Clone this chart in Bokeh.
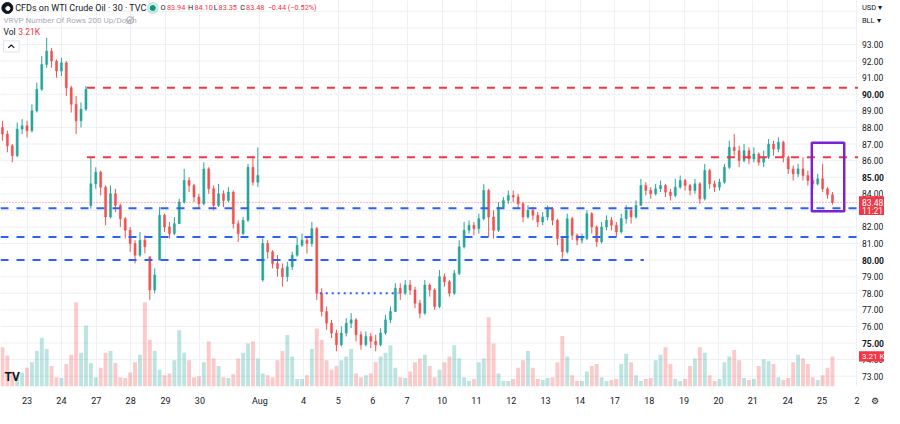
from bokeh.plotting import figure
from bokeh.models import Range1d, FixedTicker, ColumnDataSource
from bokeh.embed import file_html
from bokeh.resources import INLINE
from bokeh.core.properties import value

# ---------------- data ----------------
first_open = 88.0
closes = [
    87.6, 86.9, 86.3, 87.9, 88.1, 87.8, 89.0, 90.3, 91.8, 92.6,
    92.0, 91.4, 91.9, 90.4, 89.4, 88.4, 89.1, 90.3, 84.6, 85.3,
    84.4, 82.6, 84.0, 83.3, 82.5, 81.8, 81.0, 80.3, 81.2, 80.8,
    78.2, 79.1, 82.7, 82.0, 81.6, 82.2, 83.5, 84.8, 84.5, 83.8,
    83.4, 85.5, 84.3, 83.3, 84.0, 83.6, 84.1, 82.2, 81.6, 82.4,
    85.6, 84.7, 85.1, 81.0, 80.5, 79.8, 79.5, 79.0, 79.6, 80.3,
    80.9, 81.2, 81.0, 81.9, 78.0, 76.9, 76.2, 75.6, 74.9, 75.6,
    76.2, 76.4, 75.5, 74.9, 75.4, 75.1, 74.9, 75.6, 76.4, 76.9,
    78.3, 78.0, 78.5, 78.2, 77.4, 76.8, 78.5, 78.2, 77.2, 79.0,
    78.7, 78.0, 79.2, 80.8, 81.8, 82.1, 81.9, 82.5, 84.2, 82.6,
    81.8, 83.2, 83.6, 83.9, 83.8, 83.4, 82.6, 83.0, 82.7, 82.3,
    82.6, 83.1, 82.4, 81.3, 80.5, 82.5, 81.5, 81.2, 81.3, 82.8,
    82.0, 81.1, 82.0, 82.4, 82.1, 81.7, 82.5, 83.0, 82.6, 83.3,
    84.5, 84.2, 84.0, 84.3, 84.5, 84.1, 83.9, 84.4, 84.8, 84.5,
    84.2, 84.6, 83.7, 85.4, 84.6, 84.4, 84.7, 85.6, 86.8, 86.6,
    86.0, 86.6, 86.1, 86.4, 85.9, 86.2, 87.0, 86.7, 87.1, 86.2,
    85.5, 85.2, 85.5, 85.1, 84.8, 84.6, 84.9, 84.3, 83.94, 83.48,
]
highs = [
    88.4, 87.8, 87.0, 88.3, 88.5, 88.4, 89.4, 90.7, 92.3, 93.4,
    92.8, 92.1, 92.2, 92.0, 90.5, 89.9, 89.5, 90.5, 86.2, 85.6,
    85.4, 84.5, 84.5, 84.3, 83.4, 82.6, 82.0, 81.2, 81.7, 81.5,
    80.2, 79.5, 83.2, 82.8, 82.3, 82.6, 83.7, 85.5, 85.0, 84.6,
    84.0, 85.9, 85.6, 84.5, 84.6, 84.2, 84.4, 84.2, 82.4, 82.6,
    85.8, 86.3, 86.8, 81.3, 81.2, 80.6, 80.3, 79.8, 79.9, 80.5,
    81.4, 81.6, 81.4, 82.3, 82.0, 78.3, 77.2, 76.4, 75.8, 76.0,
    76.5, 76.8, 76.5, 75.7, 75.7, 75.6, 75.5, 75.9, 76.7, 77.2,
    78.6, 78.6, 78.8, 78.8, 78.4, 77.6, 78.8, 78.6, 78.3, 79.4,
    79.2, 78.8, 79.4, 81.2, 82.3, 82.4, 82.3, 82.8, 84.6, 84.3,
    83.0, 83.5, 83.8, 84.2, 84.2, 84.0, 83.5, 83.3, 83.2, 82.9,
    82.9, 83.3, 83.2, 82.5, 81.4, 82.8, 82.6, 81.6, 81.6, 83.0,
    82.9, 82.1, 82.3, 82.7, 82.6, 82.3, 82.8, 83.3, 83.1, 83.6,
    84.9, 84.7, 84.4, 84.6, 84.8, 84.6, 84.3, 84.9, 85.1, 84.9,
    84.6, 84.9, 84.7, 85.8, 85.5, 84.8, 84.9, 85.8, 87.2, 87.6,
    86.9, 87.0, 86.8, 86.8, 86.5, 86.6, 87.3, 87.2, 87.4, 87.2,
    86.3, 85.7, 85.8, 86.2, 85.4, 85.0, 85.2, 85.8, 84.4, 84.10,
]
lows = [
    87.2, 86.5, 85.9, 86.2, 87.6, 87.4, 87.7, 88.9, 90.2, 91.6,
    91.6, 91.0, 91.1, 89.9, 88.9, 87.6, 88.0, 89.0, 83.1, 84.3,
    83.9, 82.1, 82.5, 82.9, 82.0, 81.3, 80.5, 79.8, 80.2, 80.4,
    77.6, 78.0, 80.0, 81.7, 81.3, 81.5, 82.2, 83.4, 84.1, 83.5,
    83.1, 83.3, 84.0, 83.0, 83.2, 83.2, 83.5, 81.9, 81.1, 81.5,
    82.3, 84.5, 84.4, 78.7, 80.1, 79.5, 79.0, 78.4, 78.7, 79.4,
    80.2, 80.8, 80.4, 80.8, 77.6, 76.6, 75.8, 75.3, 74.5, 74.8,
    75.4, 75.9, 75.1, 74.6, 74.8, 74.7, 74.5, 74.8, 75.5, 76.2,
    76.9, 77.6, 77.9, 77.9, 77.1, 76.5, 76.7, 77.8, 77.0, 77.1,
    78.4, 77.8, 77.9, 79.1, 80.7, 81.6, 81.5, 81.6, 82.4, 81.4,
    81.3, 81.7, 83.1, 83.4, 83.5, 83.1, 82.3, 82.5, 82.4, 82.0,
    82.1, 82.4, 82.1, 80.9, 80.1, 80.4, 81.2, 80.9, 81.0, 81.2,
    81.6, 80.8, 81.0, 81.8, 81.8, 81.4, 81.6, 82.2, 82.2, 82.5,
    83.3, 83.9, 83.7, 83.9, 84.1, 83.8, 83.6, 83.8, 84.3, 84.2,
    83.9, 84.0, 83.4, 83.6, 84.3, 84.1, 84.2, 84.6, 85.5, 86.3,
    85.6, 85.9, 85.8, 85.9, 85.7, 85.6, 86.1, 86.3, 86.5, 85.9,
    85.2, 84.8, 85.0, 84.8, 84.5, 84.3, 84.5, 84.1, 83.7, 83.35,
]
gap_opens = {18: 83.3, 30: 80.2, 32: 80.0, 53: 78.8}
volumes_k = [
    4.2, 3.3, 1.6, 1.2, 1.5, 2.0, 2.6, 3.8, 5.2, 4.0,
    2.2, 1.0, 0.9, 2.4, 3.4, 9.0, 3.6, 6.5, 2.5, 1.0,
    2.0, 3.6, 3.8, 2.5, 1.0, 0.9, 1.5, 2.6, 3.4, 9.0,
    5.0, 3.8, 1.8, 1.2, 1.4, 2.8, 6.0, 3.6, 2.8, 1.0,
    1.1, 2.6, 4.8, 3.0, 2.2, 1.0, 0.9, 1.3, 3.0, 3.6,
    4.6, 4.8, 3.0, 1.4, 1.2, 1.0, 2.8, 3.8, 5.5, 3.2,
    0.8, 0.8, 1.2, 4.0, 6.2, 5.0, 2.8, 1.8, 2.2, 2.8,
    3.2, 4.0, 1.4, 1.0, 1.2, 1.4, 2.6, 3.2, 3.6, 4.4,
    2.0, 1.0, 0.9, 1.6, 2.6, 3.0, 3.4, 2.2, 1.0, 1.8,
    2.6, 3.2, 4.4, 3.0, 1.0, 0.6, 0.8, 2.6, 3.0, 7.4,
    4.6, 1.4, 0.6, 0.6, 0.8, 2.0, 2.8, 3.8, 2.0, 0.8,
    0.7, 0.9, 1.0, 2.6, 5.4, 3.2, 1.2, 0.6, 0.6, 1.6,
    2.2, 2.4, 1.0, 0.6, 0.7, 0.8, 2.4, 3.5, 2.6, 1.2,
    0.6, 0.8, 0.9, 2.8, 3.4, 4.2, 2.4, 0.8, 0.6, 0.8,
    2.2, 3.0, 4.2, 3.6, 1.2, 0.6, 0.8, 2.6, 3.2, 3.9,
    2.8, 0.9, 0.7, 0.8, 2.2, 2.9, 2.7, 2.4, 1.0, 0.7,
    0.9, 2.6, 3.4, 3.0, 2.4, 1.0, 0.7, 1.2, 2.0, 3.21,
]

# x axis: trading-day ticks (day index) and their labels
day_ticks = [0, 1, 2, 3, 4, 5, 6.73, 8, 9, 10, 11, 12, 13, 14, 15, 16, 17, 18, 19, 20, 21, 22, 23, 24]
day_labels = ["23", "24", "27", "28", "29", "30", "Aug", "4", "5", "6", "7", "10", "11", "12",
              "13", "14", "17", "18", "19", "20", "21", "24", "25", "2"]
first_day_bar = 5.0
bars_per_day = 7.04

price_ticks = list(range(73, 94))
bold_price_ticks = [75, 80, 85, 90]
grid_prices = list(range(73, 96))

# drawn levels
level_prices = [90.40, 86.20, 83.12, 81.40, 80.00]
level_colors = ["#f23645", "#f23645", "#2962ff", "#2962ff", "#2962ff"]
level_start_bar = [17.2, 17.2, -0.4, -0.4, -0.4]
level_end_bar = [174.2, 174.2, 174.2, 174.2, 130.6]
dotted_level = [78.0]
dotted_start_bar = [64.6]
dotted_end_bar = [80.6]
box_bars = [164.8, 171.4]
box_prices = [82.94, 87.07]

last_price = 83.48
last_vol_k = 3.21
countdown = "11:21"
ohlc_keys = ["O", "H", "L", "C"]
ohlc_vals = ["83.94", "84.10", "83.35", "83.48"]
change = "\u22120.44 (\u22120.52%)"

UP = "#26a69a"
DOWN = "#ef5350"
TXT = "#131722"
RED = "#f23645"
FONT = "Roboto"

# ---------------- build ----------------
n = len(closes)
opens = [first_open] + closes[:-1]
for k, v in gap_opens.items():
    opens[k] = v
xs = list(range(n))
colors = [UP if c >= o else DOWN for o, c in zip(opens, closes)]
src = ColumnDataSource(dict(
    x=xs, o=opens, c=closes,
    h=[max(h, o, c) for h, o, c in zip(highs, opens, closes)],
    l=[min(l, o, c) for l, o, c in zip(lows, opens, closes)],
    top=[max(o, c) for o, c in zip(opens, closes)],
    bot=[min(o, c) for o, c in zip(opens, closes)],
    color=colors, vol=volumes_k,
))


def X(px):  # reference pixel column -> bar coordinate
    return (px - 2) / 5.0


def Y(py):  # reference pixel row -> price coordinate
    return 93 - (py - 47) / 17.7


XMIN, XMAX = X(0), X(900)
YMIN, YMAX = Y(412), Y(0)
PLOT_RIGHT = X(873)

p = figure(width=884, height=408, x_range=Range1d(XMIN, XMAX), y_range=Range1d(YMIN, YMAX),
           output_backend="svg", toolbar_location=None, y_axis_location=None,
           min_border_left=0, min_border_top=0, min_border_right=0, min_border_bottom=16)
p.extra_y_ranges = {"vol": Range1d(0, 41.2)}
p.outline_line_color = None
p.background_fill_color = "white"
p.border_fill_color = "white"

tick_bars = [round(first_day_bar + d * bars_per_day, 1) for d in day_ticks]
gear_bar = round(X(890), 1)

# grid
p.xgrid.ticker = FixedTicker(ticks=tick_bars)
p.xgrid.grid_line_color = "#eef0f4"
p.ygrid.grid_line_color = None
p.segment(x0=[XMIN] * len(grid_prices), x1=[PLOT_RIGHT] * len(grid_prices), y0=grid_prices, y1=grid_prices,
          line_color="#eef0f4", line_width=1)

# x axis
p.xaxis.ticker = FixedTicker(ticks=tick_bars + [gear_bar])
ov = {t: lab for t, lab in zip(tick_bars, day_labels)}
ov[gear_bar] = "\u2699"
p.xaxis.major_label_overrides = ov
ax = p.xaxis[0]
ax.axis_line_color = None
ax.major_tick_line_color = None
ax.minor_tick_line_color = None
ax.major_label_text_font = FONT
ax.major_label_text_font_size = "9px"
ax.major_label_text_color = TXT
ax.major_label_standoff = 3

# volume
p.vbar(x="x", width=0.8, top="vol", bottom=0, source=src, y_range_name="vol",
       fill_color="color", fill_alpha=0.3, line_color=None)

# candles
p.segment(x0="x", y0="l", x1="x", y1="h", source=src, line_color="color", line_width=1)
p.vbar(x="x", width=0.42, top="top", bottom="bot", source=src, fill_color="color", line_color="color",
       line_width=0.5)

# current price line
p.segment(x0=[XMIN], x1=[PLOT_RIGHT], y0=[last_price], y1=[last_price], line_color=RED,
          line_dash="1 2", line_width=1, line_alpha=0.7)

# levels
p.segment(x0=level_start_bar, x1=level_end_bar, y0=level_prices, y1=level_prices,
          line_color=level_colors, line_width=2, line_dash="8 8")
p.segment(x0=dotted_start_bar, x1=dotted_end_bar, y0=dotted_level, y1=dotted_level,
          line_color="#2962ff", line_width=2, line_dash="2 4")
p.quad(left=[box_bars[0]], right=[box_bars[1]], bottom=[box_prices[0]], top=[box_prices[1]],
       fill_color=None, line_color="#7a22d4", line_width=2.5)


def txt(x, y, s, color=TXT, size="9px", style="normal", align="left", y_range_name="default"):
    p.text(x=[x], y=[y], text=[s], text_color=color, text_font=value(FONT), text_font_size=size,
           text_font_style=style, text_baseline="middle", text_align=align, y_range_name=y_range_name)


# ---- header ----
p.scatter(x=[X(7)], y=[Y(8)], size=11, color=TXT)
p.scatter(x=[X(7.5)], y=[Y(8.5)], size=4, color="white")
txt(X(15), Y(8), "CFDs on WTI Crude Oil \u00b7 30 \u00b7 TVC", size="9px")
p.scatter(x=[X(155)], y=[Y(8)], size=11, color="#089981", alpha=0.18)
p.scatter(x=[X(155)], y=[Y(8)], size=5, color="#089981")
ohlc_key_px = [163, 191, 217, 244]
ohlc_val_px = [169.5, 197.5, 222, 250]
for k, v, a, b in zip(ohlc_keys, ohlc_vals, ohlc_key_px, ohlc_val_px):
    txt(X(a), Y(8), k, size="7.3px")
    txt(X(b), Y(8), v, color=RED, size="7.3px")
txt(X(272), Y(8), change, color=RED, size="7.3px")

txt(X(3), Y(21), "VRVP Number Of Rows 200 Up/Down", color="#a7aab3", size="8px")
p.scatter(x=[X(132)], y=[Y(21)], size=7, fill_color=None, line_color="#a7aab3", line_width=1)
p.segment(x0=[X(128)], y0=[Y(25)], x1=[X(136)], y1=[Y(17)], line_color="#a7aab3", line_width=1)

txt(X(3), Y(34), "Vol", size="8.5px")
txt(X(18), Y(34), "3.21K", color=RED, size="8.5px")

p.rect(x=[X(11)], y=[Y(49)], width=16 / 5.0, height=12 / 17.7, fill_color="white",
       line_color="#dfe2ea", line_width=1)
p.line(x=[X(8), X(11), X(14)], y=[Y(50.5), Y(47.5), Y(50.5)], line_color=TXT, line_width=1.2)

txt(X(4), Y(402), "TV", size="12px", style="bold")

# ---- price scale (right) ----
for t in price_ticks:
    bold = t in bold_price_ticks
    txt(X(877), t, f"{t:.2f}", size="8.5px", style="bold" if bold else "normal")
txt(X(877), Y(7), "USD \u25be", size="7.5px")
txt(X(877), Y(21), "BLL \u25be", size="7.5px")

p.quad(left=[X(874)], right=[X(900)], bottom=[Y(229)], top=[Y(209)], fill_color=RED, line_color=None)
txt(X(877), last_price, f"{last_price:.2f}", color="white", size="8.5px")
txt(X(877), Y(224.5), countdown, color="white", size="8.5px")

p.quad(left=[X(874)], right=[X(900)], bottom=[last_vol_k - 0.55], top=[last_vol_k + 0.55],
       fill_color=RED, line_color=None, y_range_name="vol")
txt(X(877), last_vol_k, f"{last_vol_k:.2f} K", color="white", size="8px", y_range_name="vol")

open("out.html", "w").write(file_html(p, INLINE))
